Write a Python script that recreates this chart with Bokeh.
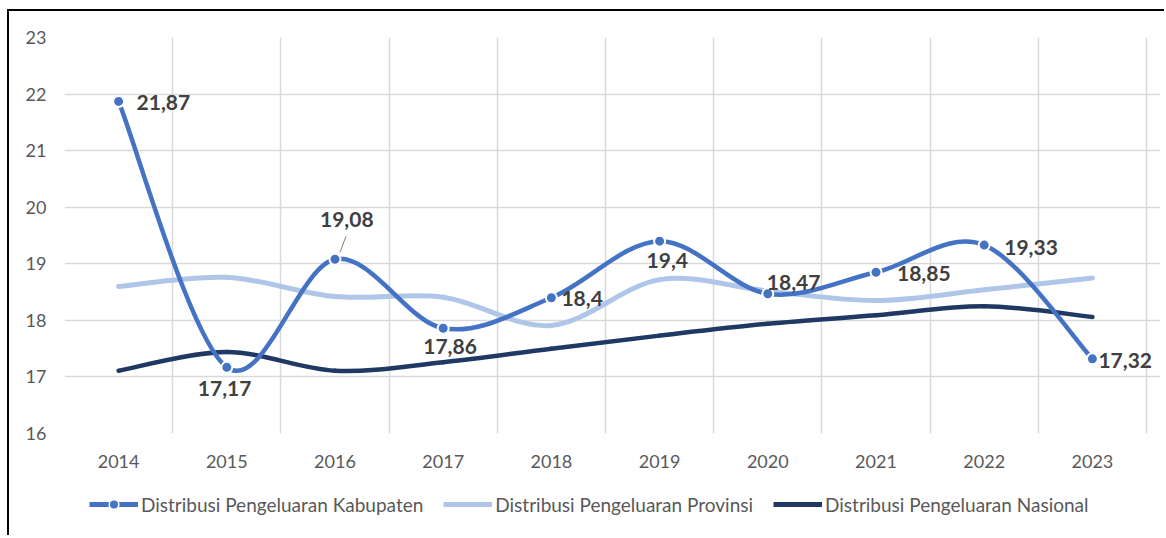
from bokeh.plotting import figure
from bokeh.layouts import column
from bokeh.models import Range1d, FixedTicker, Legend, LegendItem, ColumnDataSource
from bokeh.embed import file_html
from bokeh.resources import INLINE
from bokeh.core.properties import value

# ---------------- data ----------------
years = [2014, 2015, 2016, 2017, 2018, 2019, 2020, 2021, 2022, 2023]
kabupaten = [21.87, 17.17, 19.08, 17.86, 18.40, 19.40, 18.47, 18.85, 19.33, 17.32]
provinsi = [18.60, 18.76, 18.42, 18.41, 17.91, 18.72, 18.52, 18.35, 18.54, 18.75]
nasional = [17.11, 17.44, 17.11, 17.26, 17.50, 17.73, 17.94, 18.09, 18.25, 18.06]
y_ticks = [16, 17, 18, 19, 20, 21, 22, 23]
series_names = ["Distribusi Pengeluaran Kabupaten",
                "Distribusi Pengeluaran Provinsi",
                "Distribusi Pengeluaran Nasional"]

# ---------------- styles ----------------
C_KAB = "#4472C4"
C_PROV = "#B0C6E8"
C_NAS = "#1F3864"
GRID = "#D9D9D9"
TICK_TXT = "#595959"
LBL_TXT = "#404040"
FONT = "Lato"

# label placement (pixel offsets of the label's left edge / vertical centre)
label_dx = [18, -29, -15, -20, 10, -13, -1, 21, 20, 6]
label_dy = [1, 21, -40, 18, 1, 19, -11, 1, 2, 2]

W = 1157
FW, FH = 1082, 396          # plotting area (grid box)
EXT = 14                     # extra room right of the grid box for the last label
FL, FT, FB = 55, 26, 45
FR = W - FL - FW - EXT
H_MAIN = FT + FH + FB
H_LEG = 59

shift = {"position": "relative", "left": "7px", "top": "9px"}

x_lo, x_hi = years[0] - 0.5, years[-1] + 0.5
y_lo, y_hi = y_ticks[0], y_ticks[-1]
px_x = FW / (x_hi - x_lo)
px_y = FH / (y_hi - y_lo)

p = figure(width=W, height=H_MAIN,
           x_range=Range1d(x_lo, x_hi + EXT / px_x), y_range=Range1d(y_lo, y_hi),
           output_backend="svg", toolbar_location=None,
           min_border_left=FL, min_border_top=FT, min_border_right=FR,
           min_border_bottom=FB)
p.styles = dict(shift, **{"border-top": "2px solid #000000", "border-left": "2px solid #000000"})
p.outline_line_color = None
p.background_fill_color = "white"
p.border_fill_color = "white"

# axes
p.xaxis.ticker = FixedTicker(ticks=years)
p.yaxis.ticker = FixedTicker(ticks=y_ticks)
for ax in (p.xaxis[0], p.yaxis[0]):
    ax.axis_line_color = None
    ax.major_tick_line_color = None
    ax.minor_tick_line_color = None
    ax.major_label_text_font = FONT
    ax.major_label_text_font_size = "18px"
    ax.major_label_text_color = TICK_TXT
p.xaxis.major_label_standoff = 15
p.yaxis.major_label_standoff = 12

# grids: vertical lines at category boundaries
p.xgrid.ticker = FixedTicker(ticks=[y - 0.5 for y in years] + [years[-1] + 0.5])
p.ygrid.ticker = FixedTicker(ticks=y_ticks)
p.ygrid.bounds = (x_lo, x_hi)
p.xgrid.bounds = (y_lo, y_hi)
for g in (p.xgrid[0], p.ygrid[0]):
    g.grid_line_color = GRID
    g.grid_line_width = 1.5


def smooth(xs, ys, t=1.0 / 6.0):
    n = len(xs)
    d = dict(x0=[], y0=[], x1=[], y1=[], cx0=[], cy0=[], cx1=[], cy1=[])
    for i in range(n - 1):
        a = i - 1 if i > 0 else i
        b = i + 2 if i + 2 < n else i + 1
        d["x0"].append(xs[i]); d["y0"].append(ys[i])
        d["x1"].append(xs[i + 1]); d["y1"].append(ys[i + 1])
        d["cx0"].append(xs[i] + (xs[i + 1] - xs[a]) * t)
        d["cy0"].append(ys[i] + (ys[i + 1] - ys[a]) * t)
        d["cx1"].append(xs[i + 1] - (xs[b] - xs[i]) * t)
        d["cy1"].append(ys[i + 1] - (ys[b] - ys[i]) * t)
    return ColumnDataSource(d)


def draw(vals, color, width):
    p.bezier(x0="x0", y0="y0", x1="x1", y1="y1", cx0="cx0", cy0="cy0",
             cx1="cx1", cy1="cy1", source=smooth(years, vals),
             line_color=color, line_width=width, line_cap="round")


draw(provinsi, C_PROV, 5)
draw(nasional, C_NAS, 4.5)
draw(kabupaten, C_KAB, 4.5)

p.scatter(x=years, y=kabupaten, size=11, fill_color=C_KAB,
          line_color="white", line_width=2)

# leader line for the 2016 label
i16 = years.index(2016)
p.segment(x0=[years[i16] + 5 / px_x], y0=[kabupaten[i16] + 7 / px_y],
          x1=[years[i16] + 11 / px_x], y1=[kabupaten[i16] + 23 / px_y],
          line_color="#7F7F7F", line_width=1)

# data labels
lbl = ColumnDataSource(dict(x=years, y=kabupaten,
                            t=[("%g" % v).replace(".", ",") for v in kabupaten],
                            dx=label_dx, dy=label_dy))
p.text(x="x", y="y", text="t", x_offset="dx", y_offset="dy", source=lbl,
       text_font=value(FONT), text_font_style="bold", text_font_size="21px",
       text_color=LBL_TXT, text_align="left", text_baseline="middle")

# ---------------- legend strip (separate figure below the chart) ----------------
q = figure(width=W, height=H_LEG, x_range=Range1d(0, 1), y_range=Range1d(0, 1),
           output_backend="svg", toolbar_location=None,
           x_axis_location=None, y_axis_location=None,
           min_border_left=0, min_border_right=0, min_border_top=0, min_border_bottom=0)
q.styles = dict(shift, **{"border-left": "2px solid #000000"})
q.outline_line_color = None
q.xgrid.visible = False
q.ygrid.visible = False
q.border_fill_color = "white"

nan = float("nan")
l_kab = q.line(x=[0], y=[nan], line_color=C_KAB, line_width=5)
m_kab = q.scatter(x=[0], y=[nan], size=9, fill_color=C_KAB,
                  line_color="white", line_width=1.5)
l_prov = q.line(x=[0], y=[nan], line_color=C_PROV, line_width=5)
l_nas = q.line(x=[0], y=[nan], line_color=C_NAS, line_width=5)

legend = Legend(items=[LegendItem(label=series_names[0], renderers=[l_kab, m_kab]),
                       LegendItem(label=series_names[1], renderers=[l_prov]),
                       LegendItem(label=series_names[2], renderers=[l_nas])],
                orientation="horizontal", location=(25, 19),
                glyph_width=49, glyph_height=24, label_height=24,
                label_standoff=3, spacing=20, padding=0, margin=0,
                border_line_color=None, background_fill_alpha=0,
                label_text_font=FONT, label_text_font_size="19px",
                label_text_color=TICK_TXT)
q.add_layout(legend)

page = column(p, q, spacing=0)
open("out.html", "w").write(file_html(page, INLINE))
